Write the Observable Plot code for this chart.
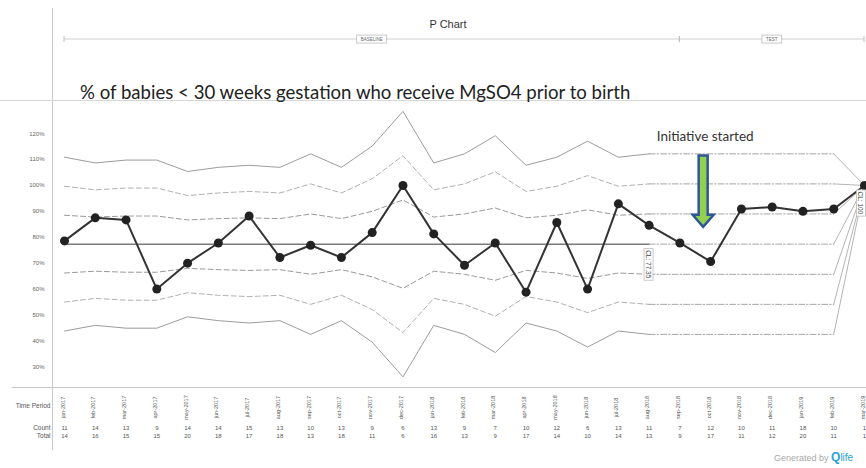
<!DOCTYPE html>
<html><head><meta charset="utf-8">
<script src="https://cdn.jsdelivr.net/npm/d3@7"></script>
<script src="https://cdn.jsdelivr.net/npm/@observablehq/plot@0.6"></script>
<style>
body{margin:0;background:#fff;}
#wrap{position:relative;width:866px;height:468px;overflow:hidden;background:#fff;font-family:"Liberation Sans",Arial,sans-serif;}
#wrap svg{position:absolute;left:0;top:0;}
.abs{position:absolute;white-space:nowrap;}
.hline{position:absolute;height:0;border-top:1px solid #c8c8c8;}
.vline{position:absolute;width:0;border-left:1px solid #c8c8c8;}
</style></head><body>
<div id="wrap">
  <div class="vline" style="left:52px;top:8px;height:442px"></div>
  <div class="hline" style="left:0;top:100px;width:866px;border-color:#d6d6d6"></div>
  <div class="hline" style="left:12px;top:387px;width:854px;border-color:#c4c4c4"></div>
  <div class="abs" style="left:0;width:896px;top:18px;text-align:center;font-size:11px;color:#333">P Chart</div>
  <div class="abs" style="left:80px;top:81px;font-family:Lato,'Open Sans',sans-serif;font-size:18.6px;color:#222">% of babies &lt; 30 weeks gestation who receive MgSO4 prior to birth</div>
  <div class="abs" style="left:774px;top:451px;font-size:9px;line-height:13px;color:#a8a8a8">Generated by <span style="color:#2a9fd8;font-weight:bold;font-size:12px">Q</span><span style="color:#2a9fd8;font-size:10px">life</span></div>
</div>
<script>
const periods = ["jan-2017","feb-2017","mar-2017","apr-2017","may-2017","jun-2017","jul-2017","aug-2017","sep-2017","oct-2017","nov-2017","dec-2017","jan-2018","feb-2018","mar-2018","apr-2018","may-2018","jun-2018","jul-2018","aug-2018","sep-2018","oct-2018","nov-2018","dec-2018","jan-2019","feb-2019","mar-2019"];
const counts = [11,14,13,9,14,14,15,13,10,13,9,6,13,9,7,10,12,6,13,11,7,12,10,11,18,10,1];
const totals = [14,16,15,15,20,18,17,18,13,18,11,6,16,13,9,17,14,10,14,13,9,17,11,12,20,11,1];
const percent = [78.6,87.5,86.7,60.0,70.0,77.8,88.2,72.2,76.9,72.2,81.8,100,81.3,69.2,77.8,58.8,85.7,60.0,92.9,84.6,77.8,70.6,90.9,91.7,90.0,90.9,100];
const centerLine = [77.35,77.35,77.35,77.35,77.35,77.35,77.35,77.35,77.35,77.35,77.35,77.35,77.35,77.35,77.35,77.35,77.35,77.35,77.35,77.35,77.35,77.35,77.35,77.35,77.35,77.35,100];
const ucl3 = [110.9,108.7,109.8,109.8,105.4,107.0,107.8,107.0,112.2,107.0,115.2,128.6,108.7,112.2,119.2,107.8,110.9,117.1,110.9,112.2,112.2,112.2,112.2,112.2,112.2,112.2,100];
const ucl2 = [99.7,98.3,99.0,99.0,96.1,97.1,97.7,97.1,100.6,97.1,102.6,111.5,98.3,100.6,105.3,97.7,99.7,103.8,99.7,100.6,100.6,100.6,100.6,100.6,100.6,100.6,100];
const ucl1 = [88.5,87.8,88.2,88.2,86.7,87.2,87.5,87.2,89.0,87.2,90.0,94.4,87.8,89.0,91.3,87.5,88.5,90.6,88.5,89.0,89.0,89.0,89.0,89.0,89.0,89.0,100];
const lcl1 = [66.2,66.9,66.5,66.5,68.0,67.5,67.2,67.5,65.7,67.5,64.7,60.3,66.9,65.7,63.4,67.2,66.2,64.1,66.2,65.7,65.7,65.7,65.7,65.7,65.7,65.7,100];
const lcl2 = [55.0,56.4,55.7,55.7,58.6,57.6,57.1,57.6,54.1,57.6,52.1,43.2,56.4,54.1,49.5,57.1,55.0,50.9,55.0,54.1,54.1,54.1,54.1,54.1,54.1,54.1,100];
const lcl3 = [43.8,46.0,44.9,44.9,49.3,47.8,46.9,47.8,42.5,47.8,39.5,26.1,46.0,42.5,35.5,46.9,43.8,37.6,43.8,42.5,42.5,42.5,42.5,42.5,42.5,42.5,100];
const yTicks = [30,40,50,60,70,80,90,100,110,120];
const phaseNames = ["BASELINE","TEST"];
const phaseStarts = ["jan-2017","sep-2018"];
const phaseEnds = ["sep-2018","mar-2019"];
const clLabelPeriods = ["aug-2018","mar-2019"];
const clLabelValues = [77.35,100];
const clLabelTexts = ["CL: 77.35","CL: 100"];
const clLabelShift = [-1, -4];
const annotationText = "Initiative started";
const annotationPeriod = "oct-2018";

const baselineEnd = periods.indexOf("aug-2018");
const testEnd = periods.indexOf("feb-2019");

const limitSeries = [
  {name:"ucl3", kind:"sigma3", values:ucl3},
  {name:"ucl2", kind:"sigma2", values:ucl2},
  {name:"ucl1", kind:"sigma1", values:ucl1},
  {name:"cl", kind:"center", values:centerLine},
  {name:"lcl1", kind:"sigma1", values:lcl1},
  {name:"lcl2", kind:"sigma2", values:lcl2},
  {name:"lcl3", kind:"sigma3", values:lcl3}
];
const rows = [];
for (const s of limitSeries) s.values.forEach((v, i) => rows.push({series:s.name, kind:s.kind, i, period:periods[i], value:v}));
const base = rows.filter(d => d.i <= baselineEnd);
const test = rows.filter(d => d.i >= baselineEnd && d.i <= testEnd);
const fin = rows.filter(d => d.i >= testEnd);
const points = periods.map((p, i) => ({period:p, value:percent[i], count:counts[i], total:totals[i]}));
const clLabels = clLabelTexts.map((t, i) => ({period:clLabelPeriods[i], value:clLabelValues[i], text:t, shift:clLabelShift[i]}));

const chart = Plot.plot({
  width: 866, height: 468,
  marginTop: 100, marginBottom: 81, marginLeft: 64, marginRight: 2,
  style: {fontFamily: "'Liberation Sans', Arial, sans-serif", color: "#555", background: "transparent", overflow: "visible"},
  x: {type: "point", domain: periods, padding: 0, round: false, axis: null},
  y: {domain: [22, 132.8], axis: null},
  marks: [
    Plot.axisY({ticks: yTicks, label: null, tickSize: 0, tickPadding: 20, tickFormat: d => d + "%", fontSize: 6, fill: "#666"}),
    Plot.line(base.filter(d => d.kind === "sigma3"), {x:"period", y:"value", z:"series", stroke:"#9c9c9c", strokeWidth:1}),
    Plot.line(base.filter(d => d.kind === "sigma2"), {x:"period", y:"value", z:"series", stroke:"#b0b0b0", strokeWidth:1, strokeDasharray:"5,3"}),
    Plot.line(base.filter(d => d.kind === "sigma1"), {x:"period", y:"value", z:"series", stroke:"#9a9a9a", strokeWidth:1, strokeDasharray:"5,3"}),
    Plot.line(base.filter(d => d.kind === "center"), {x:"period", y:"value", stroke:"#7a7a7a", strokeWidth:1.5}),
    Plot.line(test, {x:"period", y:"value", z:"series", stroke:"#a6a6a6", strokeWidth:1, strokeDasharray:"6,2,1.5,2"}),
    Plot.line(fin, {x:"period", y:"value", z:"series", stroke:"#b4b4b4", strokeWidth:1}),
    Plot.line(points, {x:"period", y:"value", stroke:"#333", strokeWidth:2}),
    Plot.dot(points, {x:"period", y:"value", r:4.5, fill:"#222", stroke:"none"}),
    ...clLabels.map(d => Plot.text([d], {x:"period", y:"value", text:"text", rotate:90, textAnchor:"start", dx:d.shift, dy:6, fontSize:6.5, fill:"#444", className:"cl-label"})),
    Plot.text(points, {x:"period", text:"period", frameAnchor:"bottom", rotate:-90, dy:20, fontSize:5.5, fill:"#555"}),
    Plot.text(points, {x:"period", text:"count", frameAnchor:"bottom", dy:42, fontSize:6, fill:"#555"}),
    Plot.text(points, {x:"period", text:"total", frameAnchor:"bottom", dy:50.5, fontSize:6, fill:"#555"}),
    Plot.text(["Time Period"], {frameAnchor:"bottom-left", text:d => d, textAnchor:"end", dx:-14, dy:20, fontSize:6.5, fill:"#555"}),
    Plot.text(["Count"], {frameAnchor:"bottom-left", text:d => d, textAnchor:"end", dx:-14, dy:42, fontSize:6.5, fill:"#555"}),
    Plot.text(["Total"], {frameAnchor:"bottom-left", text:d => d, textAnchor:"end", dx:-14, dy:50.5, fontSize:6.5, fill:"#555"})
  ]
});
document.getElementById("wrap").appendChild(chart);

const xs = chart.scale("x"), ys = chart.scale("y");
const svg = d3.select(chart);

// boxes behind CL labels
svg.selectAll(".cl-label text").each(function() {
  const bb = this.getBBox();
  d3.select(this.parentNode).insert("rect", () => this)
    .attr("transform", this.getAttribute("transform"))
    .attr("x", bb.x - 1.5).attr("y", bb.y - 1).attr("width", bb.width + 3).attr("height", bb.height + 2)
    .attr("fill", "#fff").attr("stroke", "#bbb").attr("stroke-width", 0.8);
});

// phase bar
const barY = 39;
const pg = svg.append("g");
phaseNames.forEach((name, i) => {
  const x1 = xs.apply(phaseStarts[i]), x2 = xs.apply(phaseEnds[i]);
  pg.append("line").attr("x1", x1).attr("x2", x2).attr("y1", barY).attr("y2", barY).attr("stroke", "#d0d0d0");
  [x1, x2].forEach(x => pg.append("line").attr("x1", x).attr("x2", x).attr("y1", barY - 3).attr("y2", barY + 3).attr("stroke", "#c0c0c0"));
  const t = pg.append("text").attr("x", (x1 + x2) / 2).attr("y", barY).attr("dy", "0.35em").attr("text-anchor", "middle")
    .attr("font-size", 4.5).attr("fill", "#666").text(name);
  const bb = t.node().getBBox();
  pg.insert("rect", () => t.node()).attr("x", bb.x - 4).attr("y", bb.y - 1.5).attr("width", bb.width + 8).attr("height", bb.height + 3)
    .attr("fill", "#fff").attr("stroke", "#bbb").attr("stroke-width", 0.8);
});

// annotation: text + block arrow
const ax = xs.apply(annotationPeriod) - 7;
svg.append("text").attr("x", ax + 2).attr("y", ys.apply(116.8)).attr("text-anchor", "middle")
  .attr("font-family", "Lato, 'Open Sans', sans-serif").attr("font-size", 13.5).attr("fill", "#333").text(annotationText);
const arrowTop = ys.apply(111.4), arrowHead = ys.apply(88.5), arrowTip = ys.apply(83.8);
const path = d3.path();
path.moveTo(ax - 4.5, arrowTop); path.lineTo(ax + 4.5, arrowTop); path.lineTo(ax + 4.5, arrowHead); path.lineTo(ax + 10.5, arrowHead);
path.lineTo(ax, arrowTip); path.lineTo(ax - 10.5, arrowHead); path.lineTo(ax - 4.5, arrowHead); path.closePath();
svg.append("path").attr("d", path.toString()).attr("fill", "#92d050").attr("stroke", "#2f5597").attr("stroke-width", 2.5).attr("stroke-linejoin", "miter");
</script>
</body></html>
